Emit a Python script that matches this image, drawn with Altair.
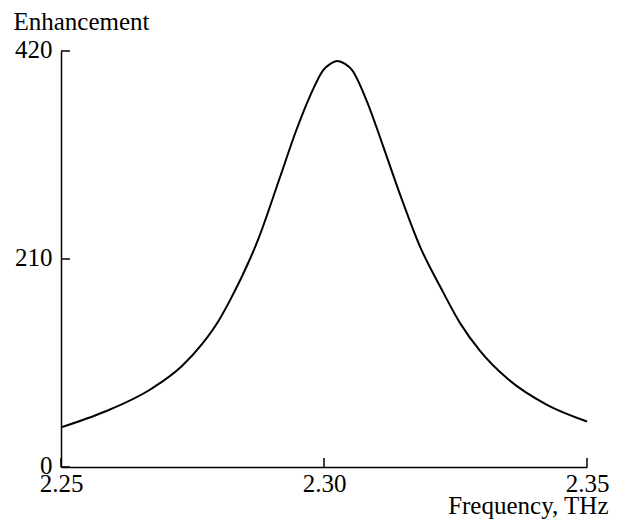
import altair as alt
import pandas as pd

# Curve values
freq = [2.2500, 2.2584, 2.2672, 2.2730, 2.2768, 2.2800, 2.2821, 2.2875, 2.2916,
        2.2948, 2.2973, 2.2999, 2.3012, 2.3025, 2.3040, 2.3053, 2.3081, 2.3113, 2.3144,
        2.3183, 2.3221, 2.3259, 2.3297, 2.3347, 2.3423, 2.3500]
enh = [40, 56, 79, 102, 124, 148, 168, 230, 292,
       341, 374, 401, 407, 410, 407, 401, 370, 323, 276,
       222, 182, 145, 117, 90, 63, 46]

x_ticks = [2.25, 2.30, 2.35]
y_ticks = [0, 210, 420]

FONT = "Liberation Serif"
FS = 25
W, H = 526, 416

df = pd.DataFrame({"freq": freq, "enh": enh})
dfx = pd.DataFrame({"t": x_ticks})
dfy = pd.DataFrame({"t": y_ticks})

x_scale = alt.Scale(domain=[2.25, 2.35], nice=False, zero=False)
y_scale = alt.Scale(domain=[0, 420], nice=False, zero=True)

x_axis = alt.Axis(
    values=x_ticks, format=".2f", ticks=False, grid=False,
    domainColor="black", domainWidth=1.5,
    labelFont=FONT, labelFontSize=FS, labelColor="black",
    labelPadding=4, labelBaseline="top", labelFlush=False,
    title="Frequency, THz", titleFont=FONT, titleFontSize=FS,
    titleFontWeight="normal", titleColor="black",
    titleAnchor="end", titleAlign="right", titleBaseline="alphabetic",
    titleX=W + 21, titleY=46,
)
y_axis = alt.Axis(
    values=y_ticks, ticks=False, grid=False,
    domainColor="black", domainWidth=1.5,
    labelFont=FONT, labelFontSize=FS, labelColor="black",
    labelPadding=9, labelFlush=False, labelOffset=-2,
    title="Enhancement", titleFont=FONT, titleFontSize=FS,
    titleFontWeight="normal", titleColor="black", titleAngle=0,
    titleAlign="left", titleBaseline="alphabetic",
    titleX=-48, titleY=-22,
)

line = alt.Chart(df).mark_line(color="black", strokeWidth=2, interpolate="monotone").encode(
    x=alt.X("freq:Q", scale=x_scale, axis=x_axis),
    y=alt.Y("enh:Q", scale=y_scale, axis=y_axis),
)

xt = alt.Chart(dfx).mark_rule(color="black", strokeWidth=1.5).encode(
    x=alt.X("t:Q", scale=x_scale),
    y=alt.value(H),
    y2=alt.value(H - 9),
)
yt = alt.Chart(dfy).mark_rule(color="black", strokeWidth=1.5).encode(
    y=alt.Y("t:Q", scale=y_scale),
    x=alt.value(0),
    x2=alt.value(9),
)

chart = (
    alt.layer(line, xt, yt)
    .properties(
        width=W, height=H,
        padding={"left": 61, "top": 51, "right": 37, "bottom": 61},
        autosize=alt.AutoSizeParams(type="none"),
        background="white",
    )
    .configure_view(stroke=None)
)

chart.save("out.html", embed_options={"renderer": "svg", "actions": False})
